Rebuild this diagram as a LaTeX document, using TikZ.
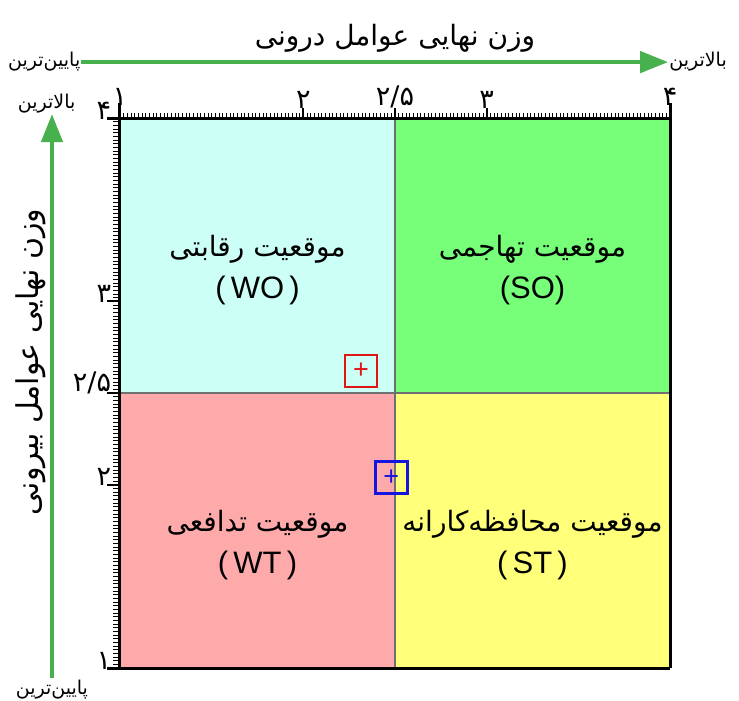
\documentclass[tikz,border=0pt]{standalone}
\usepackage{fontspec}
\setmainfont{Liberation Sans}
\newfontfamily\farsi[Script=Arabic]{DejaVu Sans}
\TeXXeTstate=1
\usetikzlibrary{arrows.meta,positioning,calc}
\definecolor{wofill}{HTML}{CCFFF5}
\definecolor{sofill}{HTML}{77FF7A}
\definecolor{wtfill}{HTML}{FFAAAA}
\definecolor{stfill}{HTML}{FFFF7A}
\definecolor{axisgreen}{HTML}{48B04C}
\definecolor{divgrey}{HTML}{707070}
\definecolor{markred}{HTML}{E01515}
\definecolor{markblue}{HTML}{1515E0}
\newcommand{\fatext}[1]{{\farsi\beginR#1\endR}}
\newcommand{\quadfa}{\fontsize{28}{42}\selectfont}
\tikzset{
  quad/.style={align=center,inner sep=0pt,font=\fontsize{31}{42}\selectfont},
  endlabel/.style={font=\farsi\fontsize{19}{20}\selectfont,inner sep=1pt},
  ticklabel/.style={font=\farsi\fontsize{27}{28}\selectfont,inner sep=0.5pt},
  axistitle/.style={font=\farsi\fontsize{28}{30}\selectfont},
  bigarrow/.style={axisgreen,line width=4.5pt,-{Triangle[length=28pt,width=21pt]}},
  frame/.style={black,line width=3pt},
  divider/.style={divgrey,line width=2.5pt},
  marker/.style={draw=#1,text=#1,line width=2.8pt,minimum size=32pt,inner sep=0pt,
    font=\fontsize{27}{27}\selectfont},
}

\begin{document}
\begin{tikzpicture}[x=183.33pt,y=183.33pt]
  \useasboundingbox (0.3455,0.8255) rectangle (4.3764,4.6437);
  % quadrants
  \fill[wofill] (1,2.5) rectangle (2.5,4);
  \fill[sofill] (2.5,2.5) rectangle (4,4);
  \fill[wtfill] (1,1) rectangle (2.5,2.5);
  \fill[stfill] (2.5,1) rectangle (4,2.5);
  \draw[divider] (2.5,1) -- (2.5,4);
  \draw[divider] (1,2.5) -- (4,2.5);
  % minor ticks
  \foreach \i in {1,...,149} {
    \draw[black,line width=0.8pt] ({1+\i/50},4) -- ({1+\i/50},4.025);
    \draw[black,line width=0.8pt] (1,{1+\i/50}) -- ({1-0.038},{1+\i/50});
  }
  % major ticks
  \foreach \t in {2,2.5,3} {
    \draw[black,line width=1.8pt] (\t,4) -- (\t,4.055);
    \draw[black,line width=1.8pt] (1,\t) -- (0.93,\t);
  }
  % frame
  \draw[frame] (0.93,4) -- (4,4);
  \draw[frame] (0.93,1) -- (4,1);
  \draw[frame] (1,1) -- (1,4.08);
  \draw[frame] (4,1) -- (4,4.08);
  % tick labels
  \node[ticklabel,anchor=south] (xone) at (1,4.065) {۱};
  \node[ticklabel,anchor=south] (xtwo) at (2,4.05) {۲};
  \node[ticklabel,anchor=south] (xmid) at (2.5,4.05) {۲/۵};
  \node[ticklabel,anchor=south] (xthree) at (3,4.05) {۳};
  \node[ticklabel,anchor=south] (xfour) at (4,4.065) {۴};
  \node[ticklabel,anchor=south east] (yfour) at (0.955,3.99) {۴};
  \node[ticklabel,anchor=south east] (ythree) at (0.955,2.99) {۳};
  \node[ticklabel,anchor=south east] (ymid) at (0.955,2.49) {۲/۵};
  \node[ticklabel,anchor=south east] (ytwo) at (0.955,1.99) {۲};
  \node[ticklabel,anchor=south east] (yone) at (0.955,0.99) {۱};
  % axis titles and arrows
  \node[axistitle] (xtitle) at (2.5,4.436) {\fatext{وزن نهایی عوامل درونی}};
  \node[axistitle,font=\farsi\fontsize{30}{32}\selectfont,rotate=90] (ytitle) at (0.515,2.67) {\fatext{وزن نهایی عوامل بیرونی}};
  \node[endlabel,anchor=east] (xlow) at (0.79,4.305) {\fatext{پایین‌ترین}};
  \node[endlabel,anchor=west] (xhigh) at (3.99,4.305) {\fatext{بالاترین}};
  \node[endlabel] (ylow) at (0.629,0.885) {\fatext{پایین‌ترین}};
  \node[endlabel] (yhigh) at (0.60,4.08) {\fatext{بالاترین}};
  \draw[bigarrow] (xlow) -- (xhigh);
  \draw[bigarrow] (ylow.north) -- (ylow.north |- yhigh.south);
  % quadrant labels
  \node[quad] (wo) at (1.75,3.17) {\fatext{\quadfa موقعیت رقابتی}\\(\,WO\,)};
  \node[quad] (so) at (3.25,3.17) {\fatext{\quadfa موقعیت تهاجمی}\\(SO)};
  \node[quad] (wt) at (1.75,1.67) {\fatext{\quadfa موقعیت تدافعی}\\(\,WT\,)};
  \node[quad] (st) at (3.25,1.67) {\fatext{\quadfa موقعیت محافظه‌کارانه}\\(\,ST\,)};
  % positions
  \node[marker=markred] (ifeone) at (2.315,2.62) {+};
  \node[marker=markblue] (ifetwo) at (2.48,2.04) {+};
\end{tikzpicture}
\end{document}
